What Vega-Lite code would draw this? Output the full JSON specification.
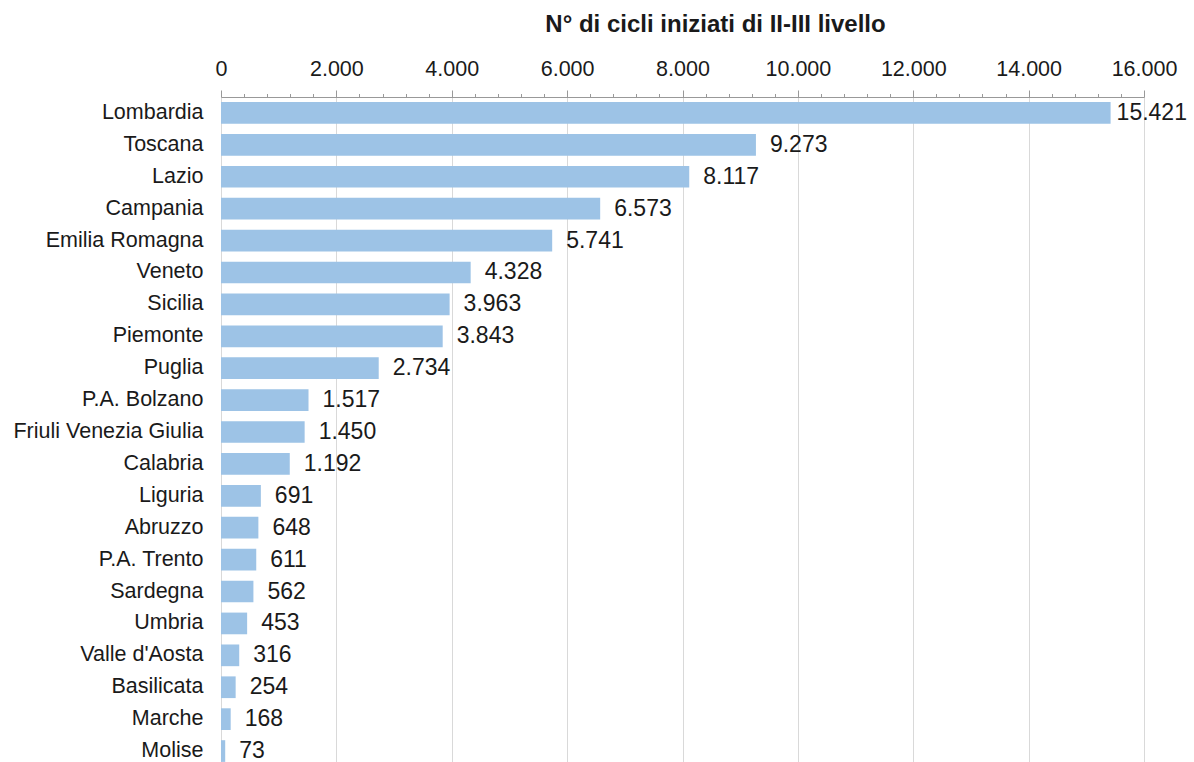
{
  "$schema": "https://vega.github.io/schema/vega-lite/v6.json",
  "width": 923,
  "height": 670,
  "autosize": {"type": "none"},
  "padding": {"left": 221, "top": 97, "right": 50, "bottom": 0},
  "background": "white",
  "config": {
    "locale": {"number": {"decimal": ",", "thousands": ".", "grouping": [3], "currency": ["€", ""]}},
    "font": "Liberation Sans",
    "view": {"stroke": null}
  },
  "data": {
    "values": [
      {"regione": "Lombardia", "n": 15421},
      {"regione": "Toscana", "n": 9273},
      {"regione": "Lazio", "n": 8117},
      {"regione": "Campania", "n": 6573},
      {"regione": "Emilia Romagna", "n": 5741},
      {"regione": "Veneto", "n": 4328},
      {"regione": "Sicilia", "n": 3963},
      {"regione": "Piemonte", "n": 3843},
      {"regione": "Puglia", "n": 2734},
      {"regione": "P.A. Bolzano", "n": 1517},
      {"regione": "Friuli Venezia Giulia", "n": 1450},
      {"regione": "Calabria", "n": 1192},
      {"regione": "Liguria", "n": 691},
      {"regione": "Abruzzo", "n": 648},
      {"regione": "P.A. Trento", "n": 611},
      {"regione": "Sardegna", "n": 562},
      {"regione": "Umbria", "n": 453},
      {"regione": "Valle d'Aosta", "n": 316},
      {"regione": "Basilicata", "n": 254},
      {"regione": "Marche", "n": 168},
      {"regione": "Molise", "n": 73}
    ]
  },
  "encoding": {
    "y": {
      "field": "regione",
      "type": "nominal",
      "sort": null,
      "scale": {"paddingInner": 0.32, "paddingOuter": 0.16},
      "axis": {
        "title": null,
        "ticks": false,
        "domain": false,
        "labelFontSize": 21.5,
        "labelColor": "#1a1a1a",
        "labelPadding": 18,
        "labelLimit": 0
      }
    }
  },
  "layer": [
    {
      "mark": {"type": "bar", "color": "#9dc3e6"},
      "encoding": {
        "x": {
          "field": "n",
          "type": "quantitative",
          "scale": {"domain": [0, 16000], "nice": false},
          "axis": {
            "orient": "top",
            "title": "N° di cicli iniziati di II-III livello",
            "titleFontSize": 24,
            "titleFontWeight": "bold",
            "titleColor": "#1a1a1a",
            "titlePadding": 22,
            "titleAnchor": "start",
            "titleAlign": "center",
            "titleX": 494,
            "values": [0, 2000, 4000, 6000, 8000, 10000, 12000, 14000, 16000],
            "format": ",d",
            "labelFontSize": 21.5,
            "labelColor": "#1a1a1a",
            "labelPadding": 10,
            "tickSize": 7,
            "tickColor": "#999999",
            "domainColor": "#999999",
            "grid": true,
            "gridColor": "#d9d9d9",
            "labelFlush": false
          }
        }
      }
    },
    {
      "transform": [{"filter": "datum.n < 15000"}],
      "mark": {"type": "text", "align": "left", "baseline": "middle", "dx": 14, "fontSize": 23, "color": "#1a1a1a"},
      "encoding": {
        "x": {
          "field": "n",
          "type": "quantitative",
          "axis": {
            "orient": "top",
            "title": null,
            "labels": false,
            "domain": false,
            "grid": false,
            "tickSize": 3.5,
            "tickColor": "#999999",
            "values": [400, 800, 1200, 1600, 2400, 2800, 3200, 3600, 4400, 4800, 5200, 5600, 6400, 6800, 7200, 7600, 8400, 8800, 9200, 9600, 10400, 10800, 11200, 11600, 12400, 12800, 13200, 13600, 14400, 14800, 15200, 15600]
          }
        },
        "text": {"field": "n", "type": "quantitative", "format": ",d"}
      }
    },
    {
      "transform": [{"filter": "datum.n >= 15000"}],
      "mark": {"type": "text", "align": "left", "baseline": "middle", "dx": 6, "fontSize": 23, "color": "#1a1a1a"},
      "encoding": {
        "x": {"field": "n", "type": "quantitative", "axis": null},
        "text": {"field": "n", "type": "quantitative", "format": ",d"}
      }
    }
  ],
  "resolve": {"axis": {"x": "independent"}}
}
